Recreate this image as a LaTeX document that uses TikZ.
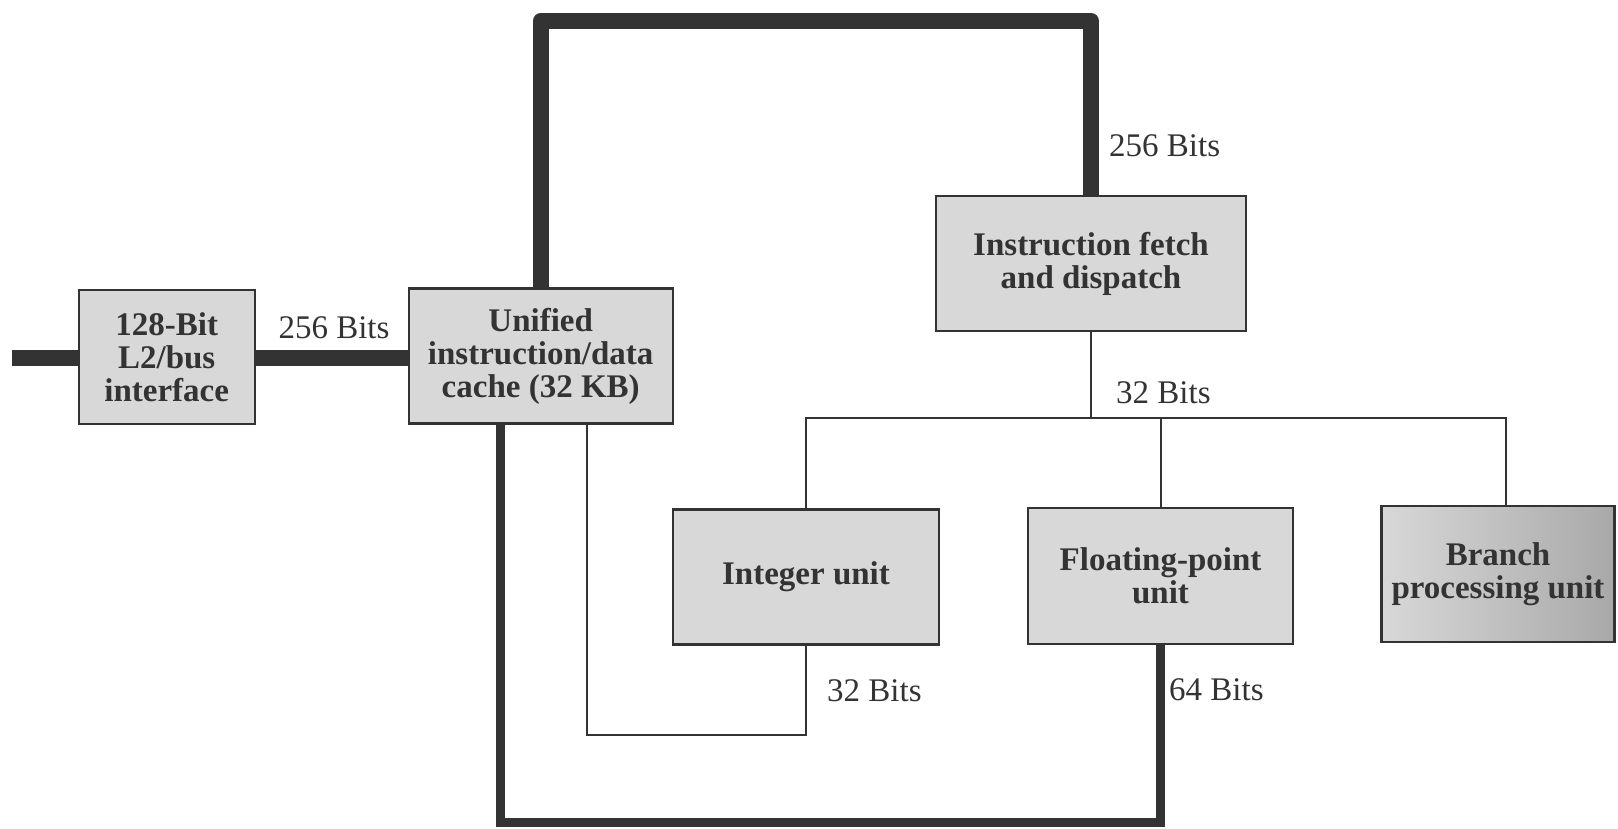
\documentclass[tikz,border=0pt]{standalone}
\usepackage{fontspec}
\setmainfont{Liberation Serif}
\usetikzlibrary{calc}
\definecolor{ln}{HTML}{333333}
\definecolor{boxfill}{HTML}{D8D8D8}
\tikzset{
  unitbox/.style={draw=ln, line width=2.2pt, fill=boxfill, align=center, inner sep=0pt,
    font=\bfseries\fontsize{33}{33}\selectfont, text=ln},
  widebus/.style={draw=ln, line width=16pt, line join=round},
  midbus/.style={draw=ln, line width=9.5pt, line join=miter},
  thinbus/.style={draw=ln, line width=2pt},
  buslabel/.style={font=\fontsize{33}{33}\selectfont, text=ln, inner sep=0pt}
}
\begin{document}
\begin{tikzpicture}[x=1pt,y=-1pt]
\useasboundingbox[fill=white] (0,0) rectangle (1618,828);
% boxes
\node[unitbox, minimum width=176, minimum height=134] (l2) at (166.7,357) {128-Bit\\L2/bus\\interface};
\node[unitbox, minimum width=264, minimum height=135] (cache) at (540.7,356) {Unified\\instruction/data\\cache (32 KB)};
\node[unitbox, minimum width=310, minimum height=135] (fetch) at (1091,263.6) {Instruction fetch\\and dispatch};
\node[unitbox, minimum width=266, minimum height=135] (int) at (806,577) {Integer unit};
\node[unitbox, minimum width=265, minimum height=136] (fpu) at (1160.5,576) {Floating-point\\unit};
\node[unitbox, minimum width=233, minimum height=136, shading=axis, left color=boxfill, middle color=boxfill, right color=boxfill!78!black] (bpu) at (1498,574) {Branch\\processing unit};
% coordinates
\coordinate (in) at (12,358);
\coordinate (top) at (800,21);
\coordinate (busy) at (1100,418);
\coordinate (low) at (700,734.7);
\coordinate (bottom) at (700,822.5);
% wide buses
\draw[widebus] (in) -- (in -| l2.west);
\draw[widebus] (l2.east |- in) -- (cache.west |- in);
\draw[widebus] (cache.north) |- (top) -| (fetch.north);
\draw[midbus] ($(cache.south)+(-40.2,0)$) |- (bottom) -| (fpu.south);
% thin buses
\draw[thinbus] (fetch.south) -- (fetch.south |- busy);
\draw[thinbus] (int.north) |- (busy) -| ($(bpu.north)+(7.6,0)$);
\draw[thinbus] (fpu.north) -- (fpu.north |- busy);
\draw[thinbus] ($(cache.south)+(46.3,0)$) |- (low) -| (int.south);
% labels
\node[buslabel] (lab1) at (334,328) {256 Bits};
\node[buslabel, anchor=west] (lab2) at (1109,145.5) {256 Bits};
\node[buslabel, anchor=west] (lab3) at (1116,393) {32 Bits};
\node[buslabel, anchor=west] (lab4) at (827,691) {32 Bits};
\node[buslabel, anchor=west] (lab5) at (1169,690) {64 Bits};
\end{tikzpicture}
\end{document}
